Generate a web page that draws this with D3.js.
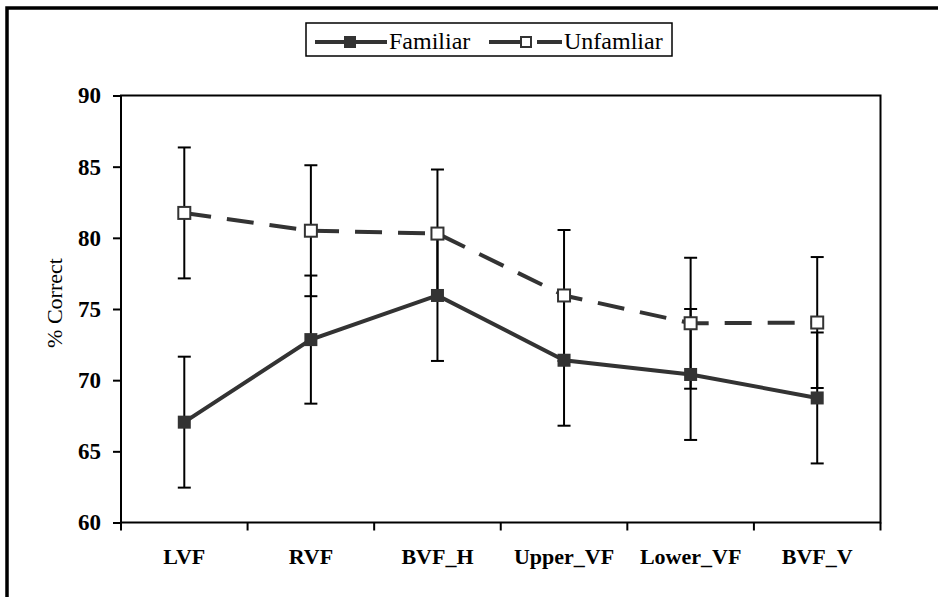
<!DOCTYPE html>
<html lang="en">
<head>
    <meta charset="UTF-8">
    <title>Percent correct by visual field</title>
    <script src="https://d3js.org/d3.v7.min.js"></script>
</head>
<body style="margin:0">
    <script>
var categories = ['LVF', 'RVF', 'BVF_H', 'Upper_VF', 'Lower_VF', 'BVF_V'];
var familiar = [67.05, 72.85, 75.95, 71.4, 70.4, 68.75];
var familiarErr = [4.6, 4.5, 4.6, 4.6, 4.6, 4.6];
var unfamiliar = [81.75, 80.5, 80.3, 75.95, 74.0, 74.05];
var unfamiliarErr = [4.6, 4.6, 4.5, 4.6, 4.6, 4.6];
var yTicks = [60, 65, 70, 75, 80, 85, 90];

var width = 938;
var height = 597;
var plot = { left: 121, right: 880.5, top: 95.5, bottom: 522.5 };
var serif = "'Liberation Serif'";

var svg = d3.select('body')
            .append('svg')
            .attr('width', width)
            .attr('height', height);

// outer frame (only top and left edges are in the picture)
svg.append('rect')
   .attr('x', 7).attr('y', 8)
   .attr('width', width + 20).attr('height', height + 20)
   .attr('fill', 'none')
   .attr('stroke', '#000')
   .attr('stroke-width', 3.5);

var xBand = d3.scaleBand() // one band per category
              .domain(categories)
              .range([plot.left, plot.right]);

var yScale = d3.scaleLinear()
               .domain([60, 90])
               .range([plot.bottom, plot.top]);

function cx(i) { return xBand(categories[i]) + xBand.bandwidth() / 2; }

// plot area box
svg.append('rect')
   .attr('x', plot.left).attr('y', plot.top)
   .attr('width', plot.right - plot.left)
   .attr('height', plot.bottom - plot.top)
   .attr('fill', 'none')
   .attr('stroke', '#000')
   .attr('stroke-width', 2);

// y axis
var yAxis = d3.axisLeft(yScale)
              .tickValues(yTicks)
              .tickSize(8)
              .tickPadding(12);

var gy = svg.append('g')
            .attr('transform', 'translate(' + plot.left + ',0)')
            .call(yAxis)
            .attr('font-family', null)
            .attr('font-size', null);
gy.select('.domain').remove();
gy.selectAll('line').attr('stroke', '#000').attr('stroke-width', 2);
gy.selectAll('text')
  .style('font-family', serif)
  .style('font-size', '23px')
  .style('font-weight', 'bold')
  .attr('fill', '#000');

// x axis: ticks sit on the band edges, labels in the band middle
var edges = categories.map(function(c) { return xBand(c); }).concat([plot.right]);
svg.append('g').selectAll('line')
   .data(edges)
   .enter().append('line')
   .attr('x1', function(d) { return d; })
   .attr('x2', function(d) { return d; })
   .attr('y1', plot.bottom)
   .attr('y2', plot.bottom + 8)
   .attr('stroke', '#000')
   .attr('stroke-width', 2);

svg.append('g').selectAll('text')
   .data(categories)
   .enter().append('text')
   .attr('x', function(d, i) { return cx(i); })
   .attr('y', 564)
   .attr('text-anchor', 'middle')
   .style('font-family', serif)
   .style('font-size', '22px')
   .style('font-weight', 'bold')
   .text(function(d) { return d; });

// y axis title
svg.append('text')
   .attr('transform', 'translate(62,' + ((plot.top + plot.bottom) / 2 - 6) + ') rotate(-90)')
   .attr('text-anchor', 'middle')
   .style('font-family', serif)
   .style('font-size', '22px')
   .text('% Correct');

// error bars
function errorBars(values, errs) {
    var g = svg.append('g').attr('stroke', '#000').attr('stroke-width', 2);
    values.forEach(function(v, i) {
        var x = cx(i);
        var top = yScale(v + errs[i]);
        var bot = yScale(v - errs[i]);
        g.append('line').attr('x1', x).attr('x2', x).attr('y1', top).attr('y2', bot);
        g.append('line').attr('x1', x - 6.5).attr('x2', x + 6.5).attr('y1', top).attr('y2', top);
        g.append('line').attr('x1', x - 6.5).attr('x2', x + 6.5).attr('y1', bot).attr('y2', bot);
    });
}
errorBars(unfamiliar, unfamiliarErr);
errorBars(familiar, familiarErr);

var line = d3.line()
             .x(function(d, i) { return cx(i); })
             .y(function(d) { return yScale(d); });

svg.append('path')
   .datum(unfamiliar)
   .attr('d', line)
   .attr('fill', 'none')
   .attr('stroke', '#333')
   .attr('stroke-width', 4)
   .attr('stroke-dasharray', '27,16');

svg.append('path')
   .datum(familiar)
   .attr('d', line)
   .attr('fill', 'none')
   .attr('stroke', '#333')
   .attr('stroke-width', 4);

// markers
svg.append('g').selectAll('rect')
   .data(unfamiliar)
   .enter().append('rect')
   .attr('x', function(d, i) { return cx(i) - 6; })
   .attr('y', function(d) { return yScale(d) - 6; })
   .attr('width', 12).attr('height', 12)
   .attr('fill', '#fff')
   .attr('stroke', '#333')
   .attr('stroke-width', 2);

svg.append('g').selectAll('rect')
   .data(familiar)
   .enter().append('rect')
   .attr('x', function(d, i) { return cx(i) - 6.5; })
   .attr('y', function(d) { return yScale(d) - 6.5; })
   .attr('width', 13).attr('height', 13)
   .attr('fill', '#333');

// legend
var lg = svg.append('g');
lg.append('rect')
  .attr('x', 306).attr('y', 23)
  .attr('width', 366).attr('height', 33)
  .attr('fill', '#fff')
  .attr('stroke', '#000')
  .attr('stroke-width', 1.5);

var ly = 42;
lg.append('line')
  .attr('x1', 315).attr('x2', 387).attr('y1', ly).attr('y2', ly)
  .attr('stroke', '#333').attr('stroke-width', 4);
lg.append('rect')
  .attr('x', 344).attr('y', ly - 6).attr('width', 12).attr('height', 12)
  .attr('fill', '#333');
lg.append('text')
  .attr('x', 389).attr('y', 49)
  .style('font-family', serif)
  .style('font-size', '24px')
  .text('Familiar');

lg.append('line')
  .attr('x1', 489).attr('x2', 520).attr('y1', ly).attr('y2', ly)
  .attr('stroke', '#333').attr('stroke-width', 4);
lg.append('line')
  .attr('x1', 537).attr('x2', 562).attr('y1', ly).attr('y2', ly)
  .attr('stroke', '#333').attr('stroke-width', 4);
lg.append('rect')
  .attr('x', 521).attr('y', ly - 5).attr('width', 10).attr('height', 10)
  .attr('fill', '#fff')
  .attr('stroke', '#333')
  .attr('stroke-width', 2);
lg.append('text')
  .attr('x', 564).attr('y', 49)
  .style('font-family', serif)
  .style('font-size', '24px')
  .text('Unfamliar');
    </script>
</body>
</html>
